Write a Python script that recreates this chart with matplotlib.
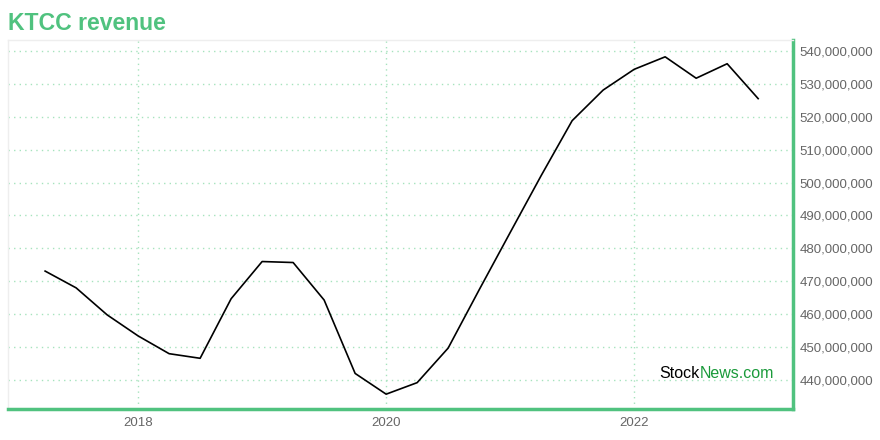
import numpy as np
import matplotlib
matplotlib.use('Agg')
import matplotlib.pyplot as plt
from matplotlib.ticker import FuncFormatter

plt.rcParams['font.family'] = ['Liberation Sans', 'DejaVu Sans']

# quarterly dates (decimal years) and revenue values
dates = [2017.25, 2017.5, 2017.75, 2018.0, 2018.25, 2018.5, 2018.75, 2019.0,
         2019.25, 2019.5, 2019.75, 2020.0, 2020.25, 2020.5, 2020.75, 2021.0,
         2021.25, 2021.5, 2021.75, 2022.0, 2022.25, 2022.5, 2022.75, 2023.0]
revenue = [473.1, 468.0, 459.8, 453.4, 448.0, 446.6, 464.7, 476.0,
           475.7, 464.3, 442.0, 435.7, 439.2, 449.7, 467.4, 484.8,
           502.1, 518.8, 528.1, 534.4, 538.2, 531.7, 536.1, 525.5]
revenue = [v * 1e6 for v in revenue]

x_ticks = [2018, 2020, 2022]
y_ticks = [440e6, 450e6, 460e6, 470e6, 480e6, 490e6, 500e6, 510e6, 520e6, 530e6, 540e6]

green = '#50c27f'
grid_green = '#a6e3bd'

fig = plt.figure(figsize=(8.8, 4.4), dpi=100)
ax = fig.add_axes([0.009, 0.0705, 0.892, 0.8385])

ax.plot(dates, revenue, color='black', linewidth=1.2)

ax.set_xlim(2016.95, 2023.28)
ax.set_ylim(431.2e6, 543.3e6)
ax.set_xticks(x_ticks)
ax.set_xticklabels([str(t) for t in x_ticks])
ax.set_yticks(y_ticks)
ax.yaxis.set_major_formatter(FuncFormatter(lambda v, p: f'{int(round(v)):,}'))
ax.yaxis.tick_right()

ax.tick_params(axis='both', length=0, labelsize=9.5, labelcolor='#666666')
ax.tick_params(axis='y', pad=5)
ax.tick_params(axis='x', pad=6)

ax.grid(True, color=grid_green, linestyle=(0, (1, 3)), linewidth=1)

for side in ['left', 'top']:
    ax.spines[side].set_color('#eeeeee')
    ax.spines[side].set_linewidth(1)
for side in ['bottom', 'right']:
    ax.spines[side].set_color(green)
    ax.spines[side].set_linewidth(2.5)

fig.text(0.009, 0.946, 'KTCC revenue', color=green, fontsize=16.6, fontweight='bold',
         ha='left', va='center')

# watermark: two-colour text
t1 = ax.text(0.830, 0.095, 'Stock', transform=ax.transAxes, fontsize=11.5,
             color='black', ha='left', va='center')
ax.annotate('News.com', xy=(1, 0.5), xycoords=t1, fontsize=11.5, color='#1a9a3a',
            ha='left', va='center')

fig.savefig('out.png', dpi=100)
